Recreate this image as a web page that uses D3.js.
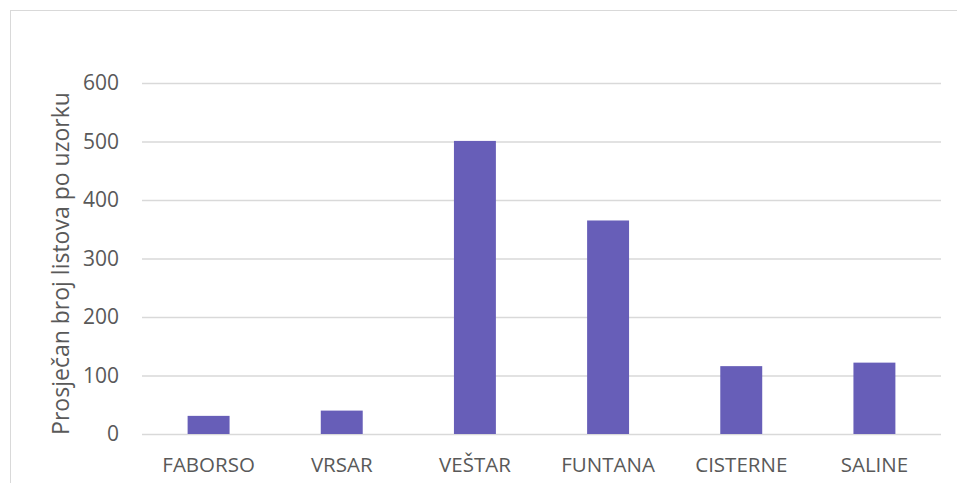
<!DOCTYPE html>
<html>
<head>
<meta charset="utf-8">
<script src="https://cdn.jsdelivr.net/npm/d3@7"></script>
<style>
  body { margin: 0; background: #fff; }
  text { font-family: "Open Sans", sans-serif; fill: #595959; }
</style>
</head>
<body>
<div id="chart"></div>
<script>
const categories = ["FABORSO", "VRSAR", "VEŠTAR", "FUNTANA", "CISTERNE", "SALINE"];
const values = [31, 40, 501, 365, 116, 122];
const yTicks = [0, 100, 200, 300, 400, 500, 600];
const yLabel = "Prosječan broj listova po uzorku";

const width = 957, height = 483;
const margin = { top: 83, right: 16, bottom: 49, left: 142 };

const svg = d3.select("#chart").append("svg")
    .attr("width", width).attr("height", height);

// chart area border
svg.append("rect")
    .attr("x", 10.5).attr("y", 10.5)
    .attr("width", width + 10).attr("height", height + 10)
    .attr("fill", "none").attr("stroke", "#d9d9d9").attr("stroke-width", 1);

const x = d3.scaleBand()
    .domain(categories)
    .range([margin.left, width - margin.right])
    .paddingInner(0.685).paddingOuter(0.3425);

const y = d3.scaleLinear()
    .domain([0, 600])
    .range([height - margin.bottom, margin.top]);

// gridlines
svg.append("g")
    .attr("transform", `translate(${margin.left},0)`)
    .call(d3.axisLeft(y).tickValues(yTicks).tickSize(-(width - margin.right - margin.left)).tickFormat(""))
    .call(g => g.select(".domain").remove())
    .call(g => g.selectAll("line").attr("stroke", "#d9d9d9").attr("stroke-width", 1.5));

// y tick labels
svg.append("g")
    .attr("transform", `translate(${margin.left},0)`)
    .call(d3.axisLeft(y).tickValues(yTicks).tickSize(0).tickPadding(23))
    .call(g => g.select(".domain").remove())
    .call(g => g.selectAll("text").attr("font-size", 21).attr("font-family", "Open Sans, sans-serif").attr("fill", "#595959"));

// bars
svg.append("g").selectAll("rect")
    .data(values)
    .join("rect")
    .attr("x", (d, i) => x(categories[i]))
    .attr("y", d => y(d))
    .attr("width", x.bandwidth())
    .attr("height", d => y(0) - y(d))
    .attr("fill", "#675eb8");

// x labels
svg.append("g")
    .attr("transform", `translate(0,${y(0)})`)
    .call(d3.axisBottom(x).tickSize(0).tickPadding(23.5))
    .call(g => g.select(".domain").remove())
    .call(g => g.selectAll("text").attr("font-size", 20.5).attr("font-family", "Open Sans, sans-serif").attr("fill", "#595959"));

// y axis title
svg.append("text")
    .attr("transform", `translate(69,${(y(0) + y(600)) / 2 + 5}) rotate(-90)`)
    .attr("text-anchor", "middle")
    .attr("font-size", 23)
    .text(yLabel);
</script>
</body>
</html>
